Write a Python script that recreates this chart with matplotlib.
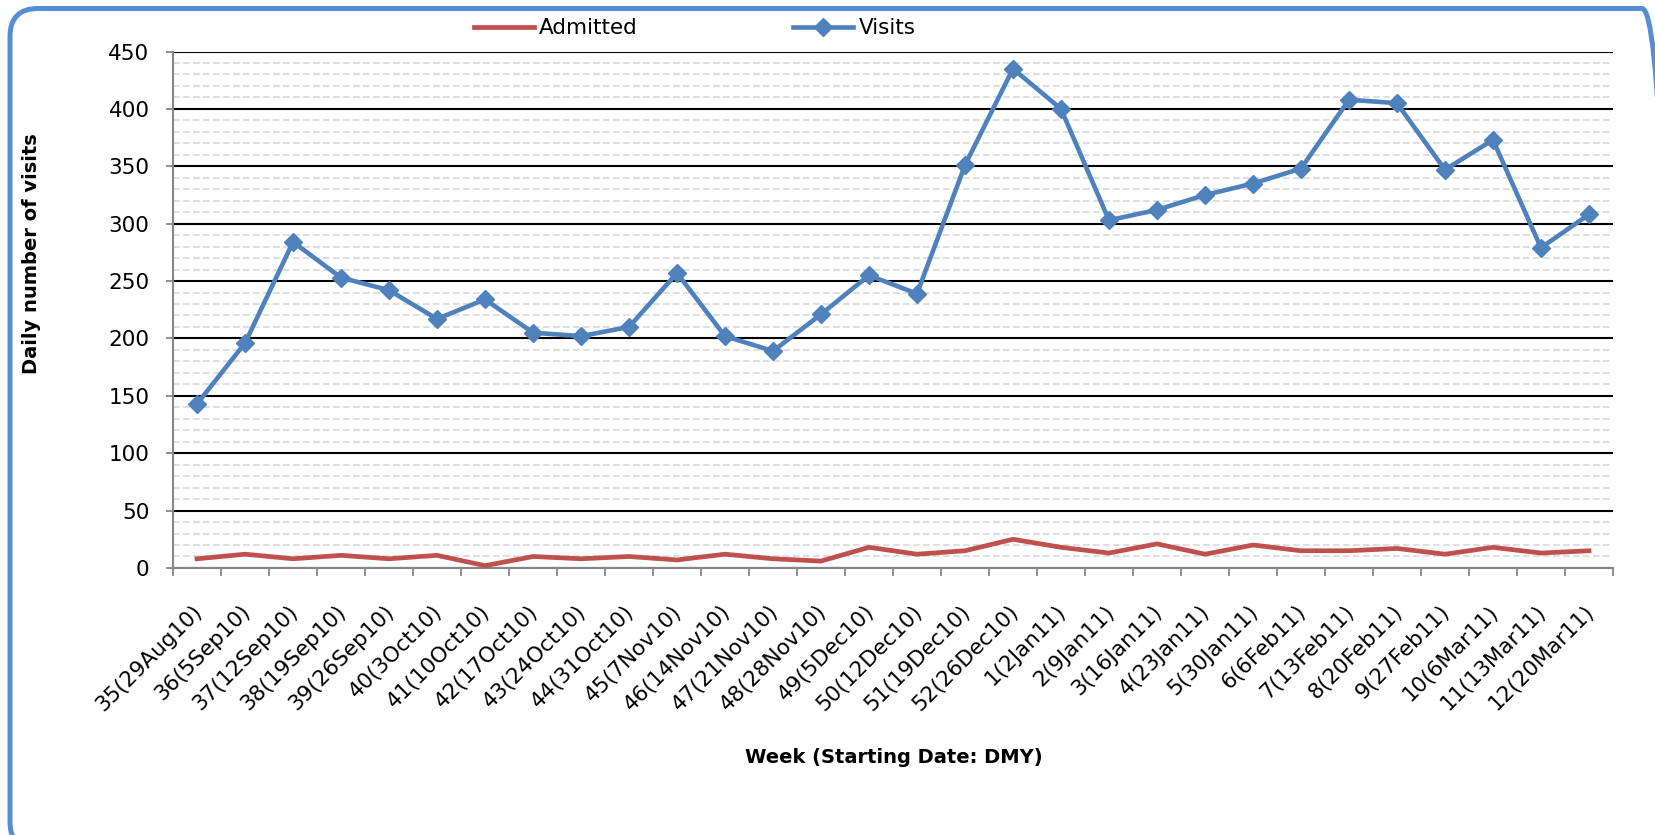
import matplotlib.pyplot as plt
import matplotlib.transforms as mtransforms
from matplotlib.patches import FancyBboxPatch
import numpy as np

''' ----- Weekly ED visits vs admitted ----- '''

weeks = ['35(29Aug10)', '36(5Sep10)', '37(12Sep10)', '38(19Sep10)', '39(26Sep10)',
         '40(3Oct10)', '41(10Oct10)', '42(17Oct10)', '43(24Oct10)', '44(31Oct10)',
         '45(7Nov10)', '46(14Nov10)', '47(21Nov10)', '48(28Nov10)', '49(5Dec10)',
         '50(12Dec10)', '51(19Dec10)', '52(26Dec10)', '1(2Jan11)', '2(9Jan11)',
         '3(16Jan11)', '4(23Jan11)', '5(30Jan11)', '6(6Feb11)', '7(13Feb11)',
         '8(20Feb11)', '9(27Feb11)', '10(6Mar11)', '11(13Mar11)', '12(20Mar11)']

visits = [143, 196, 284, 253, 242, 217, 234, 205, 202, 210,
          257, 202, 189, 221, 255, 239, 351, 435, 400, 303,
          312, 325, 335, 348, 408, 405, 347, 373, 279, 308]

admitted = [8, 12, 8, 11, 8, 11, 2, 10, 8, 10,
            7, 12, 8, 6, 18, 12, 15, 25, 18, 13,
            21, 12, 20, 15, 15, 17, 12, 18, 13, 15]

fs = 15.5

fig = plt.figure(figsize=(16.56, 8.35), dpi=100)
ax = fig.add_axes([0.1045, 0.3198, 0.8695, 0.6185])

x = np.arange(len(weeks))
ax.plot(x, admitted, color='#C0504D', lw=3.4, solid_joinstyle='round',
        label='Admitted', zorder=3)
ax.plot(x, visits, color='#4F81BD', lw=3.3, marker='D', ms=9,
        mec='#4F81BD', label='Visits', zorder=4)

ax.set_xlim(-0.5, len(weeks) - 0.5)
ax.set_ylim(0, 450)
ax.set_yticks(range(0, 451, 50))
ax.set_yticks(range(0, 451, 10), minor=True)
ax.yaxis.grid(True, which='major', color='black', lw=1.5, zorder=1)
ax.yaxis.grid(True, which='minor', color='#D9D9D9', lw=1.2, ls=(0, (4, 2)), zorder=0)
ax.set_axisbelow(True)

ax.set_xticks(x, weeks, rotation=45, ha='right')
ax.set_xticks(np.arange(-0.5, len(weeks)), minor=True)
ax.tick_params(axis='x', which='major', length=0, pad=24, labelsize=fs)
ax.tick_params(axis='x', which='minor', length=6, width=1.3, color='#868686')
ax.tick_params(axis='y', which='major', length=5, width=1.3, color='#868686',
               pad=12, labelsize=fs)
ax.tick_params(axis='y', which='minor', length=0)

shift = mtransforms.ScaledTranslation(9 / 100, 0, fig.dpi_scale_trans)
for lab in ax.get_xticklabels():
    lab.set_transform(lab.get_transform() + shift)

for s in ['top', 'right']:
    ax.spines[s].set_visible(False)
for s in ['left', 'bottom']:
    ax.spines[s].set_color('#868686')
    ax.spines[s].set_linewidth(1.5)

fig.text(0.0193, 0.6964, 'Daily number of visits', rotation=90, fontsize=14,
         fontweight='bold', ha='center', va='center')
fig.text(0.5395, 0.0934, 'Week (Starting Date: DMY)', fontsize=14,
         fontweight='bold', ha='center', va='center')

fig.legend(loc='center', bbox_to_anchor=(0.4195, 0.966), ncol=2, frameon=False,
           fontsize=fs, handlelength=2.8, columnspacing=7.2, handletextpad=0.25)

# rounded blue frame round the chart
frame = FancyBboxPatch((10, -15), 1660, 841.5, boxstyle='round,pad=0,rounding_size=28',
                       transform=mtransforms.IdentityTransform(), fill=False,
                       edgecolor='#558ED5', lw=3.6)
fig.add_artist(frame)

plt.savefig('out.png', dpi=100)
